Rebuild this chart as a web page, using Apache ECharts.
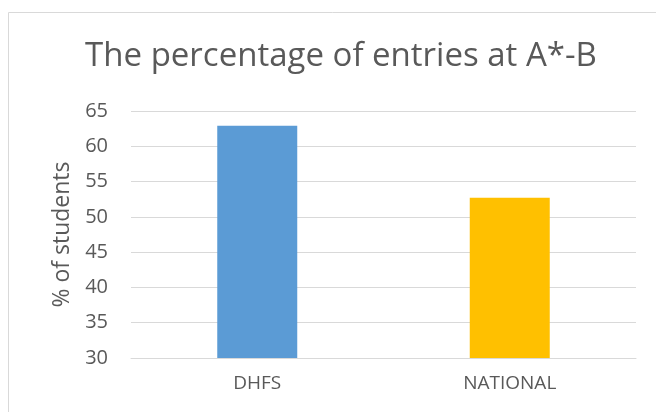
<!DOCTYPE html>
<html><head><meta charset="utf-8">
<script src="https://cdn.jsdelivr.net/npm/echarts@6/dist/echarts.min.js"></script>
<style>html,body{margin:0;padding:0;background:#fff}#c{width:656px;height:412px}</style>
</head><body><div id="c"></div>
<script>
const categories = ['DHFS', 'NATIONAL'];
const values = [62.9, 52.7];
const barColors = ['#5B9BD5', '#FFC000'];
const chartTitle = 'The percentage of entries at A*-B';
const yName = '% of students';

const chart = echarts.init(document.getElementById('c'), null, {renderer: 'canvas'});
const font = '"Open Sans", sans-serif';
chart.setOption({
  animation: false,
  graphic: [{type: 'rect', shape: {x: 8.5, y: 12.5, width: 700, height: 500}, style: {fill: 'none', stroke: '#d9d9d9', lineWidth: 1}, z: -1}],
  title: {text: chartTitle, left: 336, top: 35, textAlign: 'center',
    textStyle: {fontFamily: font, fontSize: 33, fontWeight: 'normal', color: '#595959'}},
  grid: {left: 131, right: 20, top: 111, bottom: 54},
  xAxis: {type: 'category', data: categories,
    axisLine: {lineStyle: {color: '#d9d9d9', width: 1}}, axisTick: {show: false},
    axisLabel: {fontFamily: font, fontSize: 19, color: '#595959', margin: 16}},
  yAxis: {type: 'value', min: 30, max: 65, interval: 5, name: yName, nameLocation: 'middle', nameGap: 56,
    nameTextStyle: {fontFamily: font, fontSize: 23, color: '#595959'},
    axisLine: {show: false}, axisTick: {show: false},
    splitLine: {lineStyle: {color: '#d9d9d9', width: 1}},
    axisLabel: {fontFamily: font, fontSize: 20, color: '#595959', margin: 23}},
  series: [{type: 'bar', barWidth: 80,
    data: values.map((v, i) => ({value: v, itemStyle: {color: barColors[i]}}))}]
});
</script></body></html>
